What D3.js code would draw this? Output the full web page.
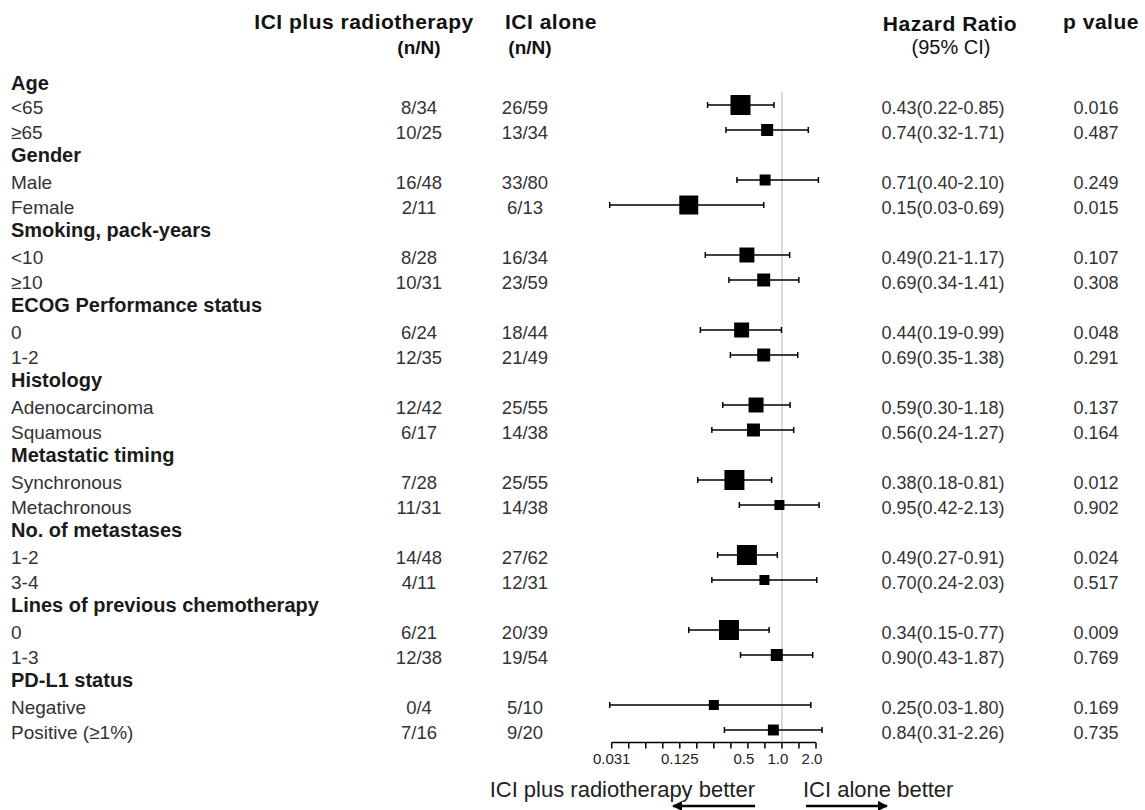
<!DOCTYPE html>
<html>
<head>
<meta charset="utf-8">
<script src="https://cdn.jsdelivr.net/npm/d3@7"></script>
<style>
	body { margin: 0; background: #fff; }
	text { font-family: "Liberation Sans", Arial, sans-serif; }
</style>
</head>
<body>
<svg id="chart" width="1145" height="810"></svg>
<script>

// subgroup headings and their rows
const groups = ['Age', 'Gender', 'Smoking, pack-years', 'ECOG Performance status', 'Histology',
	'Metastatic timing', 'No. of metastases', 'Lines of previous chemotherapy', 'PD-L1 status'];
const subgroups = [
	['<65', '≥65'],
	['Male', 'Female'],
	['<10', '≥10'],
	['0', '1-2'],
	['Adenocarcinoma', 'Squamous'],
	['Synchronous', 'Metachronous'],
	['1-2', '3-4'],
	['0', '1-3'],
	['Negative', 'Positive (≥1%)']
];

// n/N per arm, one entry per subgroup row
const radioEvents = ['8/34', '10/25', '16/48', '2/11', '8/28', '10/31', '6/24', '12/35', '12/42',
	'6/17', '7/28', '11/31', '14/48', '4/11', '6/21', '12/38', '0/4', '7/16'];
const aloneEvents = ['26/59', '13/34', '33/80', '6/13', '16/34', '23/59', '18/44', '21/49', '25/55',
	'14/38', '25/55', '14/38', '27/62', '12/31', '20/39', '19/54', '5/10', '9/20'];

// hazard ratios with 95% CI
const hr = [0.43, 0.74, 0.71, 0.15, 0.49, 0.69, 0.44, 0.69, 0.59, 0.56, 0.38, 0.95, 0.49, 0.70, 0.34, 0.90, 0.25, 0.84];
const ciLow = [0.22, 0.32, 0.40, 0.03, 0.21, 0.34, 0.19, 0.35, 0.30, 0.24, 0.18, 0.42, 0.27, 0.24, 0.15, 0.43, 0.03, 0.31];
const ciHigh = [0.85, 1.71, 2.10, 0.69, 1.17, 1.41, 0.99, 1.38, 1.18, 1.27, 0.81, 2.13, 0.91, 2.03, 0.77, 1.87, 1.80, 2.26];
const pValues = ['0.016', '0.487', '0.249', '0.015', '0.107', '0.308', '0.048', '0.291', '0.137',
	'0.164', '0.012', '0.902', '0.024', '0.517', '0.009', '0.769', '0.169', '0.735'];

// relative box weight
const weights = [100, 36, 30, 90, 56, 42, 56, 42, 56, 42, 100, 25, 100, 25, 100, 36, 25, 30];

// x axis
const tickValues = [1 / 32, 1 / 8, 1 / 2, 1, 2];
const tickLabels = ['0.031', '0.125', '0.5', '1.0', '2.0'];
const minorExponents = [-5, -4.5, -4, -3.5, -3, -2.5, -2, -1.5, -1, -0.5, 0, 0.5, 1];

// flatten into rows
let rows = [];
let k = 0;
groups.forEach(function(g, gi) {
	rows.push({ header: true, label: g });
	subgroups[gi].forEach(function(s) {
		rows.push({ header: false, label: s, i: k });
		k++;
	});
});

const svg = d3.select('#chart');

const rowY = d3.scaleLinear().domain([0, 1]).range([80, 105]);
const x = d3.scaleLog().base(2).domain([1 / 32, 2]).range([611.7, 816]);
const box = d3.scaleSqrt().domain([0, 100]).range([0, 20]);
const f2 = d3.format('.2f');

const colRadio = 419;
const colAlone = 525;
const colHR = 943;
const colP = 1096;

// column headers
const head = svg.append('g').attr('fill', '#111').attr('font-weight', 'bold');
head.append('text').attr('x', 364).attr('y', 29).attr('text-anchor', 'middle').attr('font-size', 21)
	.attr('letter-spacing', 0.5).text('ICI plus radiotherapy');
head.append('text').attr('x', 505).attr('y', 29).attr('font-size', 21)
	.attr('letter-spacing', 0.5).text('ICI alone');
head.append('text').attr('x', colRadio).attr('y', 54).attr('text-anchor', 'middle').attr('font-size', 19).text('(n/N)');
head.append('text').attr('x', colAlone + 5).attr('y', 54).attr('text-anchor', 'middle').attr('font-size', 19).text('(n/N)');
head.append('text').attr('x', 950).attr('y', 31).attr('text-anchor', 'middle').attr('font-size', 21)
	.attr('letter-spacing', 0.5).text('Hazard Ratio');
head.append('text').attr('x', 951).attr('y', 54).attr('text-anchor', 'middle').attr('font-size', 20)
	.attr('font-weight', 'normal').text('(95% CI)');
head.append('text').attr('x', 1101).attr('y', 29).attr('text-anchor', 'middle').attr('font-size', 21)
	.attr('letter-spacing', 0.5).text('p value');

// reference line at HR = 1
svg.append('line')
	.attr('x1', x(1)).attr('x2', x(1))
	.attr('y1', 92).attr('y2', 742)
	.attr('stroke', '#cfcfcf').attr('stroke-width', 1.5);

const row = svg.selectAll('g.row')
	.data(rows)
	.join('g')
	.attr('class', 'row')
	.attr('transform', (d, j) => `translate(0,${rowY(j)})`);

row.append('text')
	.attr('x', 11).attr('y', (d, j) => d.header ? (j == 0 ? 10 : 7) : 9)
	.attr('font-size', d => d.header ? 20 : 19)
	.attr('font-weight', d => d.header ? 'bold' : 'normal')
	.attr('fill', d => d.header ? '#1a1a1a' : '#333')
	.text(d => d.label);

const sub = row.filter(d => !d.header);

sub.append('text').attr('x', colRadio).attr('y', 9).attr('text-anchor', 'middle')
	.attr('font-size', 18.5).attr('fill', '#333').text(d => radioEvents[d.i]);
sub.append('text').attr('x', colAlone).attr('y', 9).attr('text-anchor', 'middle')
	.attr('font-size', 18.5).attr('fill', '#333').text(d => aloneEvents[d.i]);
sub.append('text').attr('x', colHR).attr('y', 9).attr('text-anchor', 'middle')
	.attr('font-size', 18).attr('fill', '#333')
	.text(d => `${f2(hr[d.i])}(${f2(ciLow[d.i])}-${f2(ciHigh[d.i])})`);
sub.append('text').attr('x', colP).attr('y', 9).attr('text-anchor', 'middle')
	.attr('font-size', 18).attr('fill', '#333').text(d => pValues[d.i]);

// CI whiskers with end caps
sub.append('line')
	.attr('x1', d => x(ciLow[d.i])).attr('x2', d => x(ciHigh[d.i]))
	.attr('stroke', '#000').attr('stroke-width', 1.5);
sub.append('line')
	.attr('x1', d => x(ciLow[d.i])).attr('x2', d => x(ciLow[d.i]))
	.attr('y1', -3).attr('y2', 3)
	.attr('stroke', '#000').attr('stroke-width', 1.5);
sub.append('line')
	.attr('x1', d => x(ciHigh[d.i])).attr('x2', d => x(ciHigh[d.i]))
	.attr('y1', -3).attr('y2', 3)
	.attr('stroke', '#000').attr('stroke-width', 1.5);

// weighted boxes
sub.append('rect')
	.attr('x', d => x(hr[d.i]) - box(weights[d.i]) / 2)
	.attr('y', d => -box(weights[d.i]) / 2)
	.attr('width', d => box(weights[d.i]))
	.attr('height', d => box(weights[d.i]))
	.attr('fill', '#000');

// axis
const axisY = 742.5;
const ax = svg.append('g').attr('transform', `translate(0,${axisY})`);
ax.append('line').attr('x1', x.range()[0]).attr('x2', x.range()[1])
	.attr('stroke', '#000').attr('stroke-width', 1.5);
ax.selectAll('line.tick')
	.data(minorExponents)
	.join('line')
	.attr('class', 'tick')
	.attr('x1', e => x(Math.pow(2, e))).attr('x2', e => x(Math.pow(2, e)))
	.attr('y1', 0).attr('y2', 6)
	.attr('stroke', '#000').attr('stroke-width', 1.5);
ax.selectAll('text')
	.data(tickValues)
	.join('text')
	.attr('x', (v, j) => x(v) - (j >= 2 ? 4 : 0))
	.attr('y', 21)
	.attr('text-anchor', 'middle')
	.attr('font-size', 15)
	.attr('fill', '#222')
	.text((v, j) => tickLabels[j]);

// direction labels and arrows
svg.append('text').attr('x', 755).attr('y', 797).attr('text-anchor', 'end')
	.attr('font-size', 22).attr('fill', '#222').text('ICI plus radiotherapy better');
svg.append('text').attr('x', 803).attr('y', 797)
	.attr('font-size', 22).attr('fill', '#222').text('ICI alone better');

svg.append('defs').append('marker')
	.attr('id', 'arrow')
	.attr('viewBox', '0 0 10 10')
	.attr('refX', 9).attr('refY', 5)
	.attr('markerWidth', 16).attr('markerHeight', 10)
	.attr('markerUnits', 'userSpaceOnUse')
	.attr('orient', 'auto')
	.append('path').attr('d', 'M0,0 L10,5 L0,10 z').attr('fill', '#000');

svg.append('line').attr('x1', 755).attr('x2', 673).attr('y1', 806).attr('y2', 806)
	.attr('stroke', '#000').attr('stroke-width', 2.5).attr('marker-end', 'url(#arrow)');
svg.append('line').attr('x1', 806).attr('x2', 887).attr('y1', 806).attr('y2', 806)
	.attr('stroke', '#000').attr('stroke-width', 2.5).attr('marker-end', 'url(#arrow)');

</script>
</body>
</html>
